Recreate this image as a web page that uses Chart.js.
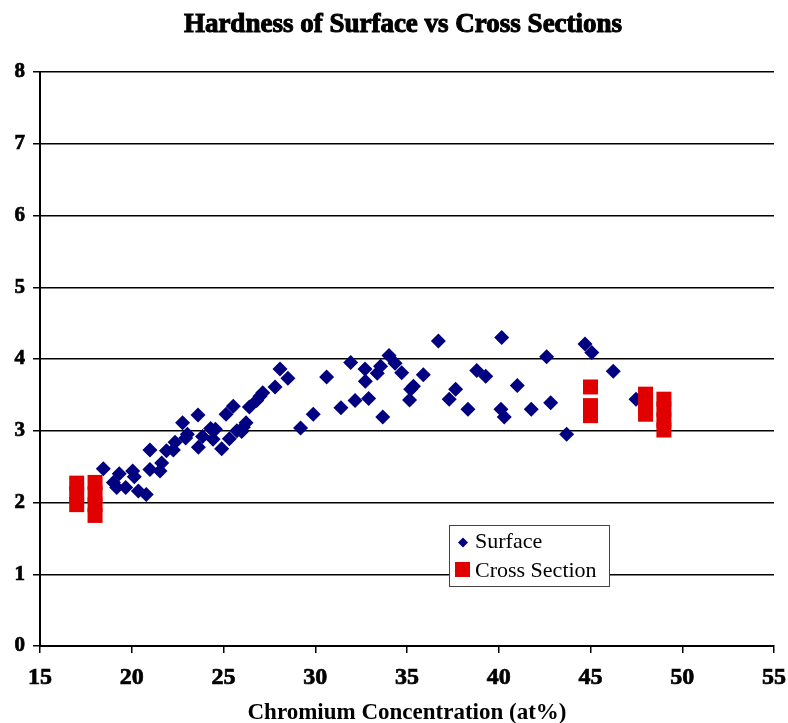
<!DOCTYPE html>
<html>
<head>
<meta charset="utf-8">
<script src="https://cdn.jsdelivr.net/npm/chart.js@4/dist/chart.umd.min.js"></script>
<style>
  html, body { margin: 0; padding: 0; background: #fff; }
</style>
</head>
<body>
<canvas id="hardnessChart" width="788" height="723"></canvas>
<script>
// Surface measurements: chromium at% vs hardness
const surfaceX = [18.45, 19.32, 20.05, 20.14, 19.0, 19.18, 19.67, 20.36, 20.79, 20.99,
  20.99, 21.63, 21.54, 21.89, 22.27, 22.36, 23.03, 22.94, 22.77, 23.63,
  23.61, 23.86, 24.30, 24.56, 24.43, 24.90, 25.32, 25.14, 25.53, 25.73,
  25.99, 26.08, 26.23, 26.41, 26.81, 26.99, 27.14, 27.81, 28.08, 28.51,
  29.20, 29.89, 30.62, 31.40, 31.93, 32.17, 32.71, 32.73, 32.91, 33.38,
  33.56, 33.68, 34.02, 34.35, 34.71, 35.20, 35.35, 35.14, 35.89, 36.71,
  37.30, 37.65, 38.32, 38.80, 39.29, 40.16, 40.12, 40.30, 41.01, 41.77,
  42.61, 42.83, 43.70, 44.70, 45.07, 46.24, 47.48];
const surfaceY = [2.47, 2.40, 2.44, 2.36, 2.28, 2.21, 2.21, 2.16, 2.11, 2.46,
  2.73, 2.55, 2.44, 2.72, 2.73, 2.84, 2.95, 2.90, 3.11, 2.77,
  3.22, 2.92, 3.03, 3.02, 2.88, 2.75, 2.89, 3.23, 3.34, 3.00,
  2.99, 3.05, 3.11, 3.33, 3.42, 3.48, 3.53, 3.61, 3.86, 3.73,
  3.04, 3.23, 3.75, 3.32, 3.95, 3.42, 3.86, 3.69, 3.45, 3.80,
  3.90, 3.19, 4.05, 3.94, 3.81, 3.58, 3.62, 3.43, 3.78, 4.25,
  3.44, 3.58, 3.30, 3.84, 3.76, 4.30, 3.30, 3.19, 3.63, 3.30,
  4.03, 3.39, 2.95, 4.21, 4.09, 3.83, 3.44];

// Cross section measurements
const crossX = [17, 17, 17, 18, 18, 18, 18, 45, 45, 45, 48, 48, 48, 49, 49, 49, 49];
const crossY = [2.27, 2.12, 1.97, 2.28, 2.12, 1.97, 1.82, 3.61, 3.35, 3.21, 3.51, 3.37, 3.23, 3.44, 3.30, 3.15, 3.01];

const seriesNames = ["Surface", "Cross Section"];
const titleText = "Hardness of Surface vs Cross Sections";
const xTitle = "Chromium Concentration (at%)";

const navy = "#000080";
const red = "#e00000";
const serif = "'Liberation Serif', 'Times New Roman', serif";

const toPoints = (xs, ys) => xs.map((x, i) => ({ x: x, y: ys[i] }));

// title and the boxed legend inside the plot
const extras = {
    id: "extras",
    afterDraw(chart) {
        const c = chart.ctx;
        c.save();
        c.fillStyle = "#000";
        c.strokeStyle = "#000";
        c.lineWidth = 1;
        c.font = "bold 27px " + serif;
        c.textAlign = "center";
        c.textBaseline = "alphabetic";
        c.fillText(titleText, 403, 32);
        c.strokeText(titleText, 403, 32);

        c.fillStyle = "#fff";
        c.fillRect(449, 525, 160, 61);
        c.strokeStyle = "#444";
        c.lineWidth = 1;
        c.strokeRect(449.5, 525.5, 160, 61);

        c.fillStyle = navy;
        c.beginPath();
        c.moveTo(463, 537.5);
        c.lineTo(468, 542.5);
        c.lineTo(463, 547.5);
        c.lineTo(458, 542.5);
        c.closePath();
        c.fill();

        c.fillStyle = red;
        c.fillRect(455, 562, 15, 15);

        c.fillStyle = "#000";
        c.font = "22px " + serif;
        c.textAlign = "left";
        c.textBaseline = "middle";
        c.fillText(seriesNames[0], 475, 542);
        c.fillText(seriesNames[1], 475, 571);
        c.restore();
    }
};

new Chart(document.getElementById("hardnessChart"), {
    type: "scatter",
    data: {
        datasets: [{
            label: seriesNames[0],
            data: toPoints(surfaceX, surfaceY),
            pointStyle: "rectRot",
            radius: 7.5,
            backgroundColor: navy,
            borderColor: navy,
            borderWidth: 0,
            order: 2
        }, {
            label: seriesNames[1],
            data: toPoints(crossX, crossY),
            pointStyle: "rect",
            radius: 10.6,
            backgroundColor: red,
            borderColor: red,
            borderWidth: 0,
            order: 1
        }]
    },
    options: {
        responsive: false,
        animation: false,
        layout: { padding: { top: 72, right: 14, left: 0, bottom: 0 } },
        plugins: {
            legend: { display: false },
            title: { display: false },
            tooltip: { enabled: false }
        },
        scales: {
            x: {
                type: "linear",
                min: 15,
                max: 55,
                afterFit: (s) => {
                    s.height = 77;
                    s.paddingRight = 0;
                    s.paddingLeft = 0;
                },
                ticks: {
                    stepSize: 5,
                    color: "#000",
                    padding: 10,
                    textStrokeColor: "#000",
                    textStrokeWidth: 0.7,
                    font: { family: serif, size: 24, weight: "bold" }
                },
                grid: {
                    drawOnChartArea: false,
                    drawTicks: true,
                    tickLength: 7,
                    color: "#000",
                    lineWidth: 1.5
                },
                border: { color: "#000", width: 2 },
                title: {
                    display: true,
                    text: xTitle,
                    color: "#000",
                    padding: { top: 0, bottom: -4 },
                    font: { family: serif, size: 23, weight: "bold" }
                }
            },
            y: {
                min: 0,
                max: 8,
                afterFit: (s) => { s.width = 40; },
                ticks: {
                    stepSize: 1,
                    color: "#000",
                    padding: 8,
                    textStrokeColor: "#000",
                    textStrokeWidth: 0.7,
                    font: { family: serif, size: 21, weight: "bold" }
                },
                grid: {
                    color: "#000",
                    lineWidth: 1.5,
                    tickLength: 7
                },
                border: { color: "#000", width: 2 }
            }
        }
    },
    plugins: [extras]
});
</script>
</body>
</html>
